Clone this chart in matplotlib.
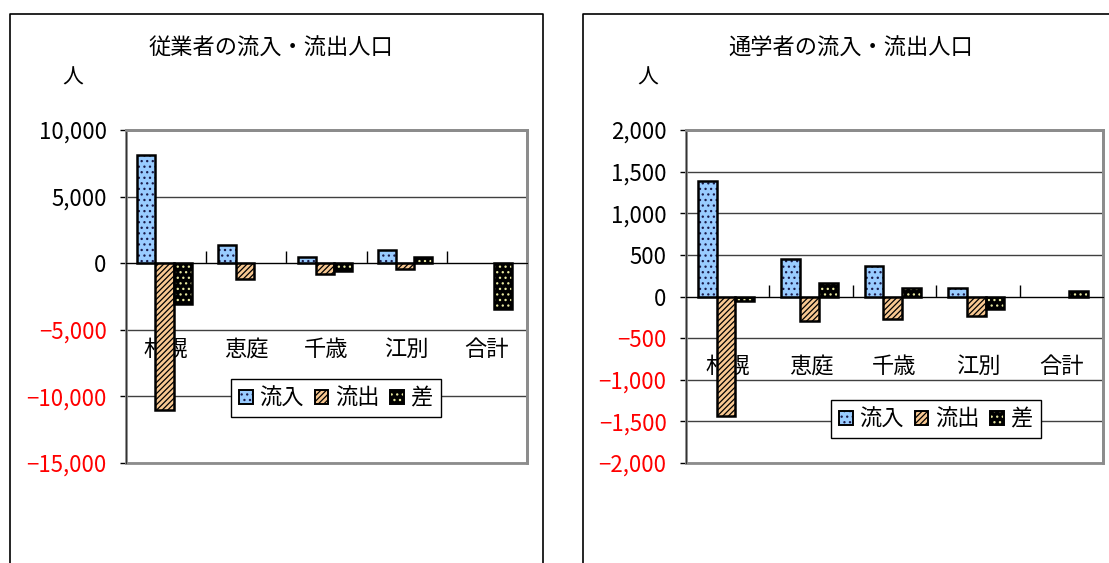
import numpy as np
import matplotlib
matplotlib.use("Agg")
import matplotlib.pyplot as plt
from matplotlib.patches import Patch, Rectangle
from matplotlib.lines import Line2D
from matplotlib.legend_handler import HandlerTuple
import matplotlib.transforms as mtransforms

plt.rcParams['font.family'] = ['Noto Sans CJK JP', 'DejaVu Sans']
plt.rcParams['hatch.linewidth'] = 0.9
plt.rcParams['axes.unicode_minus'] = True

# data
categories = ['札幌', '恵庭', '千歳', '江別', '合計']
series_names = ['流入', '流出', '差']

work_in = [8100, 1350, 430, 980, np.nan]
work_out = [-11050, -1150, -780, -430, np.nan]
work_diff = [-3050, np.nan, -620, 430, -3450]

school_in = [1390, 450, 370, 100, np.nan]
school_out = [-1440, -300, -270, -240, np.nan]
school_diff = [-60, 160, 100, -150, 70]

work_ticks = [10000, 5000, 0, -5000, -10000, -15000]
school_ticks = [2000, 1500, 1000, 500, 0, -500, -1000, -1500, -2000]

titles = ['従業者の流入・流出人口', '通学者の流入・流出人口']

# styles: face, hatch, hatch colour
styles = [('#99CCFF', '...', '#1a1a4a'),
          ('#F8C892', '//////', '#000000'),
          ('#000000', '...', '#E8E8A0')]

W, H = 1109, 563
fig = plt.figure(figsize=(W / 100, H / 100), dpi=100)


def fx(px):
    return px / W


def fy(py):
    return 1 - py / H


def draw(ax, data, ticks, label_y):
    x = np.arange(len(categories))
    bw = 0.225
    for i, vals in enumerate(data):
        face, hatch, hc = styles[i]
        xpos = x + (i - 1) * bw - 0.02
        ax.bar(xpos, vals, bw, color=face, edgecolor=hc, hatch=hatch,
               linewidth=0, zorder=3)
        ax.bar(xpos, vals, bw, fill=False, edgecolor='black',
               linewidth=1.8, zorder=4)
    ax.set_xlim(-0.5, len(categories) - 0.5)
    ax.set_ylim(ticks[-1], ticks[0])
    ax.set_yticks(ticks)
    labels = [f'{t:,}'.replace('-', '\u2212') for t in ticks]
    ax.set_yticklabels(labels, fontsize=16)
    for lab, t in zip(ax.get_yticklabels(), ticks):
        lab.set_color('red' if t < 0 else 'black')
    ax.tick_params(axis='y', length=4, width=1, pad=10, direction='out')
    ax.yaxis.grid(True, color='#404040', linewidth=1)
    ax.set_axisbelow(True)
    # category axis at zero
    ax.spines['bottom'].set_position(('data', 0))
    ax.spines['bottom'].set_color('black')
    ax.spines['bottom'].set_zorder(5)
    ax.set_xticks(np.arange(0.5, len(categories) - 1, 1.0))
    ax.tick_params(axis='x', direction='in', length=9, width=1,
                   labelbottom=False)
    for s in ['top', 'right']:
        ax.spines[s].set_color('#8c8c8c')
        ax.spines[s].set_linewidth(2)
    ax.spines['left'].set_color('#333333')
    ax.add_patch(Rectangle((0, 0), 1, 1, transform=ax.transAxes, fill=False,
                           edgecolor='#8c8c8c', linewidth=2, clip_on=False,
                           zorder=1))
    trans = mtransforms.blended_transform_factory(ax.transData, ax.transAxes)
    for i, c in enumerate(categories):
        ax.text(i, label_y, c, transform=trans, ha='center', va='center',
                fontsize=16, zorder=2)


def legend_handles():
    hs = []
    for face, hatch, hc in styles:
        hs.append((Patch(facecolor=face, edgecolor=hc, hatch=hatch, linewidth=0),
                   Patch(fill=False, edgecolor='black', linewidth=1.4)))
    return hs


ax1 = fig.add_axes([fx(126), fy(463), fx(527 - 126), (463 - 130) / H])
draw(ax1, [work_in, work_out, work_diff], work_ticks, 0.342)
ax2 = fig.add_axes([fx(686), fy(463), fx(1103 - 686), (463 - 130) / H])
draw(ax2, [school_in, school_out, school_diff], school_ticks, 0.291)

for ax, cx, cy in [(ax1, 336, 398), (ax2, 936, 419)]:
    leg = ax.legend(legend_handles(), series_names,
                    handler_map={tuple: HandlerTuple(ndivide=1)},
                    loc='center', bbox_to_anchor=(fx(cx), fy(cy)),
                    bbox_transform=fig.transFigure, ncol=3, fontsize=16,
                    frameon=True, fancybox=False, framealpha=1,
                    edgecolor='black', handlelength=0.6, handleheight=0.6,
                    handletextpad=0.3, columnspacing=0.5, borderpad=0.35,
                    borderaxespad=0)
    leg.get_frame().set_linewidth(1)
    leg.set_zorder(10)

fig.text(fx(271), fy(48), titles[0], ha='center', va='center', fontsize=16)
fig.text(fx(851), fy(48), titles[1], ha='center', va='center', fontsize=16)
fig.text(fx(73), fy(78), '人', ha='center', va='center', fontsize=15)
fig.text(fx(648), fy(78), '人', ha='center', va='center', fontsize=15)

# outer chart frames
for x0, x1 in [(10, 543), (583, 1115)]:
    fig.add_artist(Line2D([fx(x0), fx(x0), fx(x1), fx(x1)],
                          [0, fy(14), fy(14), 0], color='black', linewidth=1.2,
                          transform=fig.transFigure))

fig.savefig('out.png', dpi=100)
